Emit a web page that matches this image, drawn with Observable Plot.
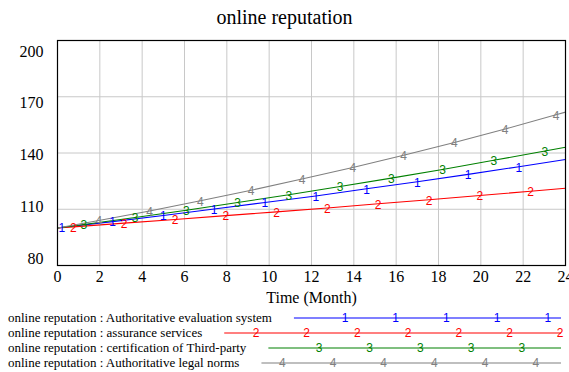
<!DOCTYPE html>
<html><head><meta charset="utf-8">
<script src="https://cdn.jsdelivr.net/npm/d3@7"></script>
<script src="https://cdn.jsdelivr.net/npm/@observablehq/plot@0.6"></script>
<style>
body{margin:0;background:#fff;width:569px;height:372px;overflow:hidden;font-family:"Liberation Serif","Times New Roman",serif;}
#title{height:28px;line-height:34px;text-align:center;font-size:20px;color:#000;}
#chart svg,#legend svg{display:block;}
</style></head><body>
<div id="title">online reputation</div>
<div id="chart"></div>
<div id="legend"></div>
<script>
const seriesNames = [
  "online reputation : Authoritative evaluation system",
  "online reputation : assurance services",
  "online reputation : certification of Third-party",
  "online reputation : Authoritative legal norms"
];
const seriesMarks = ["1", "2", "3", "4"];
const seriesColors = ["#0000ff", "#ff0000", "#008000", "#808080"];

// Months / values (first and last are line ends, others carry the numbered markers)
const evalMonths   = [0, 0.2, 2.6, 5.0, 7.4, 9.8, 12.2, 14.6, 17.0, 19.4, 21.8, 24];
const evalValues   = [100, 100.3, 103.4, 106.7, 110.1, 113.6, 117.1, 120.9, 124.7, 128.6, 132.7, 136.5];
const assureMonths = [0, 0.75, 3.15, 5.55, 7.95, 10.35, 12.75, 15.15, 17.55, 19.95, 22.35, 24];
const assureValues = [100, 100.6, 102.6, 104.5, 106.6, 108.6, 110.7, 112.9, 115.1, 117.3, 119.6, 121.2];
const certMonths   = [0, 1.25, 3.67, 6.09, 8.51, 10.93, 13.35, 15.77, 18.19, 20.61, 23.03, 24];
const certValues   = [100, 101.9, 105.6, 109.5, 113.6, 117.7, 122.1, 126.6, 131.2, 136.1, 141.1, 143.1];
const legalMonths  = [0, 1.95, 4.35, 6.75, 9.15, 11.55, 13.95, 16.35, 18.75, 21.15, 23.55, 24];
const legalValues  = [100, 104.0, 109.1, 114.5, 120.1, 126.1, 132.3, 138.8, 145.6, 152.8, 160.4, 161.8];

const xTicks = [0, 2, 4, 6, 8, 10, 12, 14, 16, 18, 20, 22, 24];
const yTicks = [80, 110, 140, 170, 200];
const xLabel = "Time (Month)";

const rows = [];
[[evalMonths, evalValues], [assureMonths, assureValues], [certMonths, certValues], [legalMonths, legalValues]]
  .forEach(([m, v], i) => m.forEach((t, j) => rows.push({
    series: seriesNames[i], mark: seriesMarks[i], month: t, value: v[j], end: j === 0 || j === m.length - 1
  })));

const serif = "Liberation Serif, Times New Roman, serif";
const sans = "Liberation Sans, Arial, sans-serif";
// the reference draws its y tick labels slightly squeezed toward the middle
const yLabelSqueeze = 0.92;
const yMid = 140;

const chart = Plot.plot({
  width: 569, height: 277,
  marginLeft: 57, marginRight: 4, marginTop: 12, marginBottom: 40,
  style: {fontFamily: serif, fontSize: "16px", color: "#000", background: "#fff", overflow: "visible"},
  x: {domain: [0, 24], axis: null},
  y: {domain: [80, 200], axis: null},
  color: {domain: seriesNames, range: seriesColors},
  marks: [
    Plot.gridX(xTicks, {stroke: "#c8c8c8", strokeOpacity: 1}),
    Plot.gridY(yTicks.slice(1, -1), {stroke: "#c8c8c8", strokeOpacity: 1}),
    Plot.text(xTicks, {frameAnchor: "bottom", x: d => d, text: d => String(d), lineAnchor: "top", dy: 5,
      fontSize: 16, fontFamily: serif, fill: "#000"}),
    Plot.text(yTicks, {frameAnchor: "left", y: d => yMid + (d - yMid) * yLabelSqueeze - 1, text: d => String(d),
      textAnchor: "end", dx: -14, fontSize: 16, fontFamily: serif, fill: "#000"}),
    Plot.text([xLabel], {frameAnchor: "bottom", dy: 32, lineAnchor: "middle", fontSize: 16, fontFamily: serif, fill: "#000"}),
    Plot.line(rows, {x: "month", y: "value", z: "series", stroke: "series", strokeWidth: 1.1}),
    Plot.text(rows.filter(d => !d.end), {x: "month", y: "value", text: "mark", fill: "series", fontFamily: sans, fontSize: 12, dy: 1}),
    Plot.frame({stroke: "#000", strokeWidth: 1.2})
  ]
});
document.getElementById("chart").append(chart);

// Legend
const legendPhase = [345, 256, 319, 282.3];
const legendStep = 50.7;
const legendEnd = 561;
const lg = d3.create("svg").attr("width", 569).attr("height", 67);
document.getElementById("legend").append(lg.node());
seriesNames.forEach((name, i) => {
  const cy = 13 + 15 * i;
  const t = lg.append("text").attr("x", 8).attr("y", cy).attr("dy", "0.32em")
    .attr("font-size", 13).attr("font-family", serif).attr("fill", "#000").text(name);
  const w = t.node().getComputedTextLength();
  const x0 = 8 + w + 22;
  lg.append("line").attr("x1", x0).attr("x2", legendEnd).attr("y1", cy).attr("y2", cy)
    .attr("stroke", seriesColors[i]).attr("stroke-width", 1.2);
  for (let p = legendPhase[i]; p <= legendEnd + 0.5; p += legendStep) {
    if (p < x0) continue;
    lg.append("text").attr("x", p).attr("y", cy).attr("dy", "0.35em").attr("text-anchor", "middle")
      .attr("font-size", 12).attr("font-family", sans).attr("fill", seriesColors[i]).text(seriesMarks[i]);
  }
});
</script>
</body></html>
